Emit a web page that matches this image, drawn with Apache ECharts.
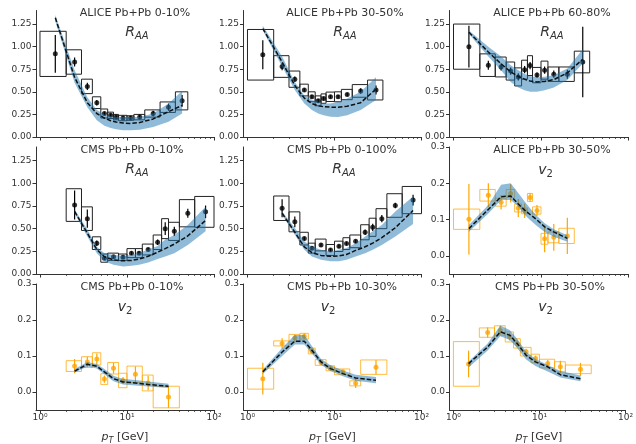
<!DOCTYPE html>
<html>
<head>
<meta charset="utf-8">
<script src="https://cdn.jsdelivr.net/npm/echarts@6/dist/echarts.min.js"></script>
<style>
  html, body { margin: 0; padding: 0; background: #fff; }
  #chart { width: 636px; height: 444px; }
</style>
</head>
<body>
<div id="chart"></div>
<script>
// ---- transverse-momentum bins (GeV) ----
const aliceEdges = [1, 2, 3, 4, 5, 6, 7, 8, 10, 12, 16, 24, 36, 50];
const alicePt = [1.5, 2.5, 3.5, 4.5, 5.5, 6.5, 7.5, 9, 11, 14, 20, 30, 43];
const cmsRaaEdges = [2, 3, 4, 5, 6, 8, 10, 12.5, 15, 20, 25, 30, 40, 60, 100];
const cmsRaaPt = [2.5, 3.5, 4.5, 5.5, 7, 9, 11.25, 13.75, 17.5, 22.5, 27.5, 35, 50, 80];
const cmsV2Edges = [1, 2, 3, 4, 5, 6, 8, 10, 15, 20, 40];
const cmsV2Pt = [1.5, 2.5, 3.5, 4.5, 5.5, 7, 9, 12.5, 17.5, 30];
const cmsV2Edges010 = [2, 3, 4, 5, 6, 8, 10, 15, 20, 40];
const cmsV2Pt010 = [2.5, 3.5, 4.5, 5.5, 7, 9, 12.5, 17.5, 30];

// ---- tick labels ----
const xTickLabels = ['10\u2070', '10\u00b9', '10\u00b2'];
const raaTicks = [0, 0.25, 0.5, 0.75, 1.0, 1.25];
const v2Ticks = [0, 0.1, 0.2, 0.3];

// ---- ALICE Pb+Pb 0-10% R_AA ----
const aliceRaa010 = [0.92, 0.83, 0.56, 0.38, 0.26, 0.24, 0.22, 0.21, 0.21, 0.22, 0.26, 0.33, 0.40];
const aliceRaa010Stat = [0.21, 0.05, 0.04, 0.03, 0.02, 0.02, 0.02, 0.02, 0.02, 0.02, 0.03, 0.04, 0.065];
const aliceRaa010Sys = [0.25, 0.135, 0.08, 0.065, 0.05, 0.035, 0.03, 0.03, 0.025, 0.03, 0.04, 0.058, 0.10];
const modelRaaA010Low = [1.28, 0.60, 0.33, 0.185, 0.125, 0.10, 0.085, 0.075, 0.074, 0.08, 0.11, 0.17, 0.26];
const modelRaaA010Mid = [1.32, 0.66, 0.38, 0.26, 0.21, 0.18, 0.165, 0.155, 0.15, 0.16, 0.20, 0.28, 0.35];
const modelRaaA010High = [1.35, 0.74, 0.44, 0.30, 0.25, 0.23, 0.22, 0.22, 0.22, 0.22, 0.26, 0.37, 0.51];

// ---- ALICE Pb+Pb 30-50% R_AA ----
const aliceRaa3050 = [0.91, 0.78, 0.64, 0.52, 0.445, 0.40, 0.425, 0.445, 0.445, 0.47, 0.51, 0.52];
const aliceRaa3050Stat = [0.16, 0.04, 0.03, 0.02, 0.02, 0.02, 0.02, 0.02, 0.02, 0.02, 0.03, 0.05];
const aliceRaa3050Sys = [0.28, 0.12, 0.09, 0.065, 0.055, 0.055, 0.052, 0.052, 0.055, 0.057, 0.07, 0.11];
const modelRaaA3050Low = [1.18, 0.78, 0.52, 0.37, 0.30, 0.26, 0.24, 0.225, 0.22, 0.24, 0.30, 0.41];
const modelRaaA3050Mid = [1.20, 0.83, 0.57, 0.43, 0.37, 0.345, 0.335, 0.33, 0.33, 0.34, 0.38, 0.53];
const modelRaaA3050High = [1.23, 0.89, 0.61, 0.46, 0.41, 0.39, 0.37, 0.37, 0.39, 0.425, 0.50, 0.66];

// ---- ALICE Pb+Pb 60-80% R_AA ----
const aliceRaa6080 = [1.00, 0.795, 0.775, 0.73, 0.665, 0.745, 0.79, 0.685, 0.74, 0.695, 0.695, 0.83];
const aliceRaa6080Stat = [0.23, 0.05, 0.04, 0.04, 0.04, 0.04, 0.04, 0.03, 0.04, 0.04, 0.05, 0.39];
const aliceRaa6080Sys = [0.25, 0.125, 0.11, 0.10, 0.10, 0.105, 0.11, 0.085, 0.10, 0.08, 0.08, 0.12];
const modelRaaA6080Low = [1.14, 0.89, 0.74, 0.61, 0.548, 0.518, 0.50, 0.50, 0.518, 0.548, 0.63, 0.814];
const modelRaaA6080Mid = [1.16, 0.94, 0.81, 0.72, 0.67, 0.64, 0.62, 0.61, 0.615, 0.635, 0.71, 0.86];
const modelRaaA6080High = [1.18, 1.00, 0.89, 0.795, 0.74, 0.696, 0.673, 0.66, 0.666, 0.684, 0.758, 0.97];

// ---- CMS Pb+Pb 0-10% R_AA ----
const cmsRaa010 = [0.76, 0.61, 0.34, 0.175, 0.19, 0.185, 0.23, 0.23, 0.27, 0.35, 0.50, 0.47, 0.67, 0.685];
const cmsRaa010Stat = [0.16, 0.10, 0.03, 0.02, 0.02, 0.02, 0.02, 0.02, 0.02, 0.03, 0.07, 0.05, 0.05, 0.07];
const cmsRaa010Sys = [0.18, 0.13, 0.07, 0.045, 0.04, 0.035, 0.05, 0.05, 0.06, 0.08, 0.11, 0.10, 0.15, 0.17];
const modelRaaC010Low = [0.67, 0.414, 0.23, 0.14, 0.103, 0.084, 0.092, 0.103, 0.128, 0.165, 0.194, 0.23, 0.32, 0.47];
const modelRaaC010Mid = [0.69, 0.45, 0.27, 0.19, 0.155, 0.145, 0.15, 0.165, 0.195, 0.24, 0.28, 0.33, 0.42, 0.59];
const modelRaaC010High = [0.71, 0.49, 0.30, 0.23, 0.21, 0.20, 0.21, 0.23, 0.27, 0.31, 0.38, 0.43, 0.54, 0.74];

// ---- CMS Pb+Pb 0-100% R_AA ----
const cmsRaa0100 = [0.725, 0.575, 0.39, 0.285, 0.32, 0.265, 0.305, 0.335, 0.36, 0.46, 0.515, 0.61, 0.755, 0.815];
const cmsRaa0100Stat = [0.10, 0.06, 0.02, 0.02, 0.02, 0.02, 0.02, 0.02, 0.02, 0.03, 0.04, 0.04, 0.03, 0.06];
const cmsRaa0100Sys = [0.135, 0.11, 0.07, 0.055, 0.065, 0.06, 0.057, 0.065, 0.07, 0.083, 0.10, 0.11, 0.13, 0.15];
const modelRaaC0100Low = [0.653, 0.433, 0.268, 0.194, 0.158, 0.14, 0.14, 0.158, 0.194, 0.23, 0.268, 0.32, 0.414, 0.55];
const modelRaaC0100Mid = [0.67, 0.46, 0.30, 0.235, 0.205, 0.195, 0.20, 0.215, 0.26, 0.30, 0.34, 0.40, 0.51, 0.70];
const modelRaaC0100High = [0.69, 0.506, 0.36, 0.30, 0.268, 0.25, 0.268, 0.286, 0.34, 0.414, 0.47, 0.54, 0.69, 0.854];

// ---- ALICE Pb+Pb 30-50% v2 ----
const aliceV23050 = [0.101, 0.167, 0.148, 0.172, 0.132, 0.124, 0.161, 0.125, 0.047, 0.051, 0.055];
const aliceV23050Stat = [0.097, 0.033, 0.02, 0.025, 0.025, 0.02, 0.012, 0.015, 0.037, 0.037, 0.05];
const aliceV23050Sys = [0.028, 0.016, 0.011, 0.011, 0.011, 0.008, 0.011, 0.01, 0.015, 0.015, 0.021];
const modelV2A3050Low = [0.0665, 0.117, 0.154, 0.154, 0.136, 0.113, 0.099, 0.082, 0.066, 0.053, 0.039];
const modelV2A3050Mid = [0.075, 0.128, 0.163, 0.165, 0.143, 0.126, 0.114, 0.099, 0.08, 0.066, 0.048];
const modelV2A3050High = [0.085, 0.14, 0.196, 0.20, 0.173, 0.15, 0.131, 0.11, 0.0896, 0.073, 0.057];

// ---- CMS Pb+Pb 0-10% v2 ----
const cmsV2010 = [0.072, 0.083, 0.092, 0.036, 0.066, 0.032, 0.049, 0.025, -0.014];
const cmsV2010Stat = [0.02, 0.015, 0.015, 0.01, 0.015, 0.01, 0.022, 0.02, 0.03];
const cmsV2010Sys = [0.015, 0.015, 0.017, 0.015, 0.016, 0.02, 0.023, 0.022, 0.03];
const modelV2C010Low = [0.054, 0.071, 0.065, 0.049, 0.03, 0.021, 0.018, 0.015, 0.011];
const modelV2C010Mid = [0.058, 0.077, 0.0715, 0.056, 0.037, 0.028, 0.025, 0.021, 0.016];
const modelV2C010High = [0.064, 0.083, 0.078, 0.064, 0.045, 0.036, 0.033, 0.029, 0.023];

// ---- CMS Pb+Pb 10-30% v2 ----
const cmsV21030 = [0.037, 0.135, 0.150, 0.155, 0.114, 0.082, 0.066, 0.056, 0.024, 0.069];
const cmsV21030Stat = [0.044, 0.014, 0.01, 0.008, 0.007, 0.006, 0.006, 0.006, 0.013, 0.02];
const cmsV21030Sys = [0.029, 0.007, 0.01, 0.008, 0.008, 0.008, 0.007, 0.008, 0.007, 0.02];
const modelV2C1030Low = [0.05, 0.10, 0.132, 0.132, 0.107, 0.076, 0.058, 0.044, 0.031, 0.024];
const modelV2C1030Mid = [0.056, 0.111, 0.141, 0.141, 0.116, 0.0836, 0.065, 0.051, 0.039, 0.0325];
const modelV2C1030High = [0.062, 0.122, 0.158, 0.158, 0.128, 0.092, 0.074, 0.06, 0.048, 0.042];

// ---- CMS Pb+Pb 30-50% v2 ----
const cmsV23050 = [0.078, 0.165, 0.171, 0.153, 0.135, 0.112, 0.093, 0.079, 0.070, 0.063];
const cmsV23050Stat = [0.037, 0.014, 0.012, 0.01, 0.01, 0.008, 0.008, 0.01, 0.017, 0.018];
const cmsV23050Sys = [0.062, 0.013, 0.013, 0.014, 0.013, 0.012, 0.012, 0.012, 0.014, 0.012];
const modelV2C3050Low = [0.068, 0.115, 0.155, 0.145, 0.122, 0.09, 0.072, 0.057, 0.04, 0.03];
const modelV2C3050Mid = [0.079, 0.125, 0.167, 0.158, 0.135, 0.102, 0.0836, 0.07, 0.048, 0.037];
const modelV2C3050High = [0.085, 0.135, 0.185, 0.172, 0.148, 0.112, 0.092, 0.075, 0.058, 0.046];

// ---- panel table (row-major 3x3) ----
const panels = [
  { title: 'ALICE Pb+Pb 0-10%', obs: 'RAA', pt: alicePt, edges: aliceEdges, val: aliceRaa010, stat: aliceRaa010Stat, sys: aliceRaa010Sys, lo: modelRaaA010Low, mid: modelRaaA010Mid, hi: modelRaaA010High },
  { title: 'ALICE Pb+Pb 30-50%', obs: 'RAA', pt: alicePt, edges: aliceEdges, val: aliceRaa3050, stat: aliceRaa3050Stat, sys: aliceRaa3050Sys, lo: modelRaaA3050Low, mid: modelRaaA3050Mid, hi: modelRaaA3050High },
  { title: 'ALICE Pb+Pb 60-80%', obs: 'RAA', pt: alicePt, edges: aliceEdges, val: aliceRaa6080, stat: aliceRaa6080Stat, sys: aliceRaa6080Sys, lo: modelRaaA6080Low, mid: modelRaaA6080Mid, hi: modelRaaA6080High },
  { title: 'CMS Pb+Pb 0-10%', obs: 'RAA', pt: cmsRaaPt, edges: cmsRaaEdges, val: cmsRaa010, stat: cmsRaa010Stat, sys: cmsRaa010Sys, lo: modelRaaC010Low, mid: modelRaaC010Mid, hi: modelRaaC010High },
  { title: 'CMS Pb+Pb 0-100%', obs: 'RAA', pt: cmsRaaPt, edges: cmsRaaEdges, val: cmsRaa0100, stat: cmsRaa0100Stat, sys: cmsRaa0100Sys, lo: modelRaaC0100Low, mid: modelRaaC0100Mid, hi: modelRaaC0100High },
  { title: 'ALICE Pb+Pb 30-50%', obs: 'v2', pt: alicePt, edges: aliceEdges, val: aliceV23050, stat: aliceV23050Stat, sys: aliceV23050Sys, lo: modelV2A3050Low, mid: modelV2A3050Mid, hi: modelV2A3050High },
  { title: 'CMS Pb+Pb 0-10%', obs: 'v2', pt: cmsV2Pt010, edges: cmsV2Edges010, val: cmsV2010, stat: cmsV2010Stat, sys: cmsV2010Sys, lo: modelV2C010Low, mid: modelV2C010Mid, hi: modelV2C010High },
  { title: 'CMS Pb+Pb 10-30%', obs: 'v2', pt: cmsV2Pt, edges: cmsV2Edges, val: cmsV21030, stat: cmsV21030Stat, sys: cmsV21030Sys, lo: modelV2C1030Low, mid: modelV2C1030Mid, hi: modelV2C1030High },
  { title: 'CMS Pb+Pb 30-50%', obs: 'v2', pt: cmsV2Pt, edges: cmsV2Edges, val: cmsV23050, stat: cmsV23050Stat, sys: cmsV23050Sys, lo: modelV2C3050Low, mid: modelV2C3050Mid, hi: modelV2C3050High }
];

// ---- layout and style ----
const FONT = 'DejaVu Sans';
const INK = '#333333';
const BAND = 'rgba(31,119,180,0.5)';
const ORANGE = '#ffa500';
const colLeft = [36, 243.5, 449.5];
const colWidth = [178, 178, 179];
const rowTop = [10.5, 147, 284];
const rowHeight = [126.5, 127, 126];
const titlePos = [[135, 13], [345, 13], [552, 13], [132, 150], [342, 150], [552, 150], [132, 287], [342, 287], [550, 287]];
const obsPos = [[137, 32], [345, 32], [552, 32], [137, 169], [344, 169], [545.5, 170], [125, 307], [328, 307], [545.5, 307]];

const lg = Math.log10;
const xMin = lg(0.9), xMax = 2;
const majorX = [0, 1, 2];
const minorX = [];
[1, 10].forEach(d => { for (let k = 2; k <= 9; k++) minorX.push(lg(k * d)); });

const grids = [], xAxes = [], yAxes = [], series = [], graphics = [];

panels.forEach((p, i) => {
  const row = Math.floor(i / 3), col = i % 3;
  const isV2 = p.obs === 'v2';
  const mark = isV2 ? ORANGE : '#000000';
  const boxColor = isV2 ? 'rgba(255,165,0,0.75)' : '#222222';
  grids.push({ left: colLeft[col], top: rowTop[row], width: colWidth[col], height: rowHeight[row] });

  // major ticks with labels on the bottom row
  xAxes.push({
    gridIndex: i, type: 'value', position: 'bottom', min: xMin, max: xMax,
    axisLine: { show: true, onZero: false, lineStyle: { color: INK, width: 1 } },
    axisTick: { show: true, customValues: majorX, length: 3.5, lineStyle: { color: INK, width: 1 } },
    axisLabel: { show: row === 2, customValues: majorX, formatter: v => xTickLabels[Math.round(v)],
      fontFamily: FONT, fontSize: 9, color: INK, margin: 3 },
    splitLine: { show: false }
  });
  // minor ticks at 2..9 of each decade
  xAxes.push({
    gridIndex: i, type: 'value', position: 'bottom', min: xMin, max: xMax,
    axisLine: { show: false, onZero: false },
    axisTick: { show: true, customValues: minorX, length: 2, lineStyle: { color: INK, width: 0.8 } },
    axisLabel: { show: false },
    splitLine: { show: false }
  });
  const yt = isV2 ? v2Ticks : raaTicks;
  yAxes.push({
    gridIndex: i, type: 'value', min: isV2 ? -0.05 : 0, max: isV2 ? 0.3 : 1.4,
    axisLine: { show: true, onZero: false, lineStyle: { color: INK, width: 1 } },
    axisTick: { show: true, customValues: yt, length: 3.5, lineStyle: { color: INK, width: 1 } },
    axisLabel: { customValues: yt, formatter: v => v.toFixed(isV2 ? 1 : 2),
      fontFamily: FONT, fontSize: 9, color: INK, margin: 4.5 },
    splitLine: { show: false }
  });

  const xi = 2 * i;
  const n = p.val.length;
  const boxes = [], errs = [], pts = [], band = [], mid = [];
  for (let j = 0; j < n; j++) {
    const x = lg(p.pt[j]);
    boxes.push([lg(p.edges[j]), lg(p.edges[j + 1]), p.val[j] - p.sys[j], p.val[j] + p.sys[j]]);
    errs.push([x, p.val[j] - p.stat[j], p.val[j] + p.stat[j]]);
    pts.push([x, p.val[j]]);
    band.push([x, p.lo[j], p.hi[j]]);
    mid.push([x, p.mid[j]]);
  }

  // systematic-uncertainty boxes
  series.push({
    type: 'custom', xAxisIndex: xi, yAxisIndex: i, z: 2, silent: true, clip: false,
    data: boxes,
    renderItem: (params, api) => {
      const a = api.coord([api.value(0), api.value(3)]);
      const b = api.coord([api.value(1), api.value(2)]);
      return { type: 'rect', shape: { x: a[0], y: a[1], width: b[0] - a[0], height: b[1] - a[1] },
        style: { fill: 'none', stroke: boxColor, lineWidth: 1 } };
    }
  });
  // statistical error bars
  series.push({
    type: 'custom', xAxisIndex: xi, yAxisIndex: i, z: 3, silent: true, clip: false,
    data: errs,
    renderItem: (params, api) => {
      const a = api.coord([api.value(0), api.value(1)]);
      const b = api.coord([api.value(0), api.value(2)]);
      return { type: 'line', shape: { x1: a[0], y1: a[1], x2: b[0], y2: b[1] },
        style: { stroke: mark, lineWidth: 1.2 } };
    }
  });
  // measured points
  series.push({
    type: 'scatter', xAxisIndex: xi, yAxisIndex: i, z: 3, silent: true,
    symbol: 'circle', symbolSize: 5, itemStyle: { color: mark }, data: pts
  });
  // model uncertainty band: one polygon through upper edge then lower edge
  series.push({
    type: 'custom', xAxisIndex: xi, yAxisIndex: i, z: 4, silent: true, clip: false,
    data: band,
    renderItem: (params, api) => {
      if (params.dataIndex !== 0) return null;
      const upper = band.map(d => api.coord([d[0], d[2]]));
      const lower = band.map(d => api.coord([d[0], d[1]])).reverse();
      return { type: 'polygon', shape: { points: upper.concat(lower) }, style: { fill: BAND } };
    }
  });
  // model central curve
  series.push({
    type: 'line', xAxisIndex: xi, yAxisIndex: i, z: 5, silent: true,
    symbol: 'none', lineStyle: { color: '#111111', width: 1.5, type: [4.5, 2] }, data: mid
  });

  // panel title and observable label
  graphics.push({
    type: 'text', x: titlePos[i][0], y: titlePos[i][1], z: 10,
    style: { text: p.title, fill: INK, font: '11px "' + FONT + '"', align: 'center', verticalAlign: 'middle' }
  });
  const obsText = isV2 ? '{m|v}{n|2}' : '{m|R}{s|AA}';
  graphics.push({
    type: 'text', x: obsPos[i][0], y: obsPos[i][1], z: 10,
    style: {
      text: obsText, align: 'center', verticalAlign: 'middle',
      rich: {
        m: { fontFamily: FONT, fontSize: 14, fontStyle: 'italic', fill: INK, lineHeight: 14, verticalAlign: 'top' },
        s: { fontFamily: FONT, fontSize: 10, fontStyle: 'italic', fill: INK, lineHeight: 10, verticalAlign: 'top', padding: [6, 0, 0, 0] },
        n: { fontFamily: FONT, fontSize: 10, fill: INK, lineHeight: 10, verticalAlign: 'top', padding: [6, 0, 0, 0] }
      }
    }
  });
});

// x-axis titles under the bottom row
colLeft.forEach((l, c) => {
  graphics.push({
    type: 'text', x: l + colWidth[c] / 2, y: 437, z: 10,
    style: {
      text: '{p|p}{t|T}{g| [GeV]}', align: 'center', verticalAlign: 'middle',
      rich: {
        p: { fontFamily: FONT, fontSize: 11, fontStyle: 'italic', fill: INK, lineHeight: 11, verticalAlign: 'top' },
        t: { fontFamily: FONT, fontSize: 8, fontStyle: 'italic', fill: INK, lineHeight: 8, verticalAlign: 'top', padding: [5, 0, 0, 0] },
        g: { fontFamily: FONT, fontSize: 11, fill: INK, lineHeight: 11, verticalAlign: 'top' }
      }
    }
  });
});

const chart = echarts.init(document.getElementById('chart'), null, { renderer: 'canvas' });
chart.setOption({
  animation: false,
  backgroundColor: '#ffffff',
  grid: grids,
  xAxis: xAxes,
  yAxis: yAxes,
  series: series,
  graphic: graphics
});
</script>
</body>
</html>
